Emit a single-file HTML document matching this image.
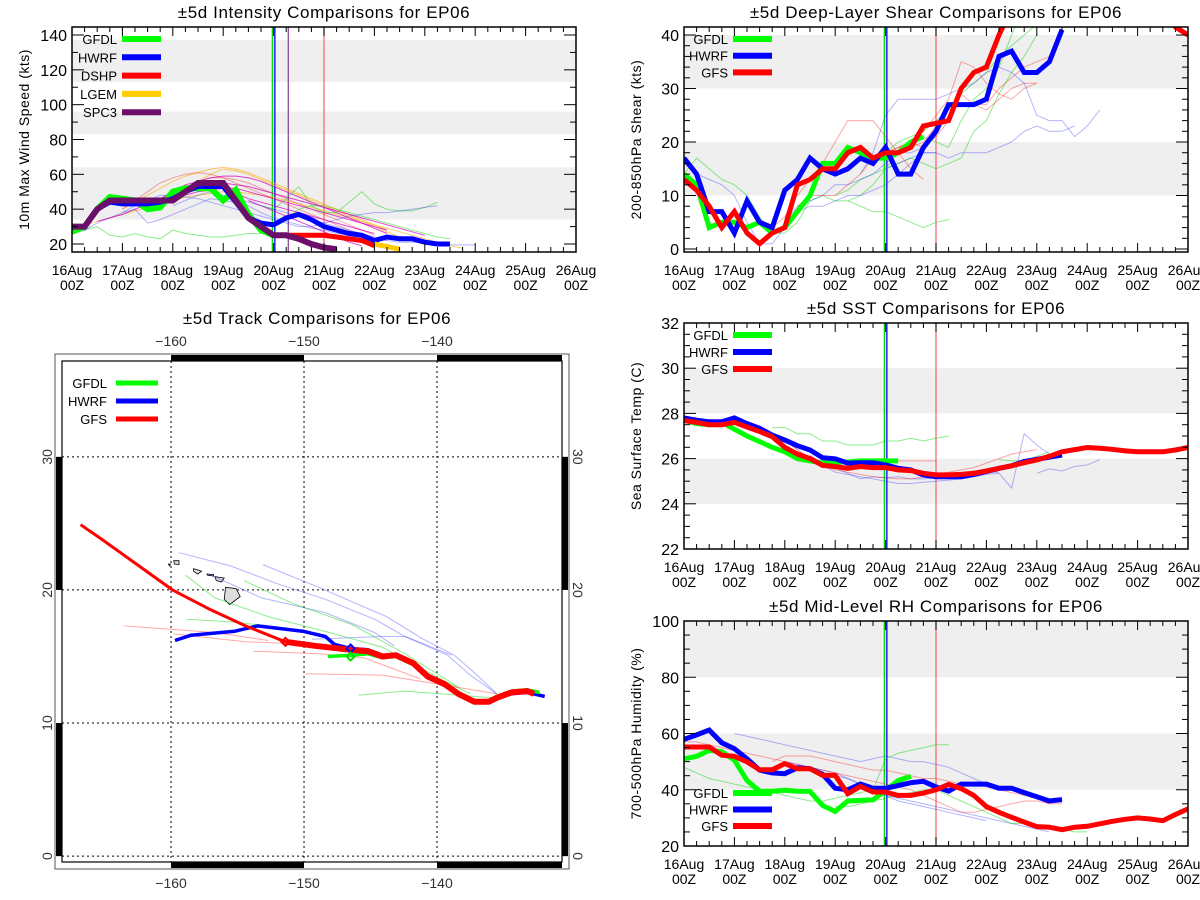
<!DOCTYPE html>
<html><head><meta charset="utf-8"><style>
body{margin:0;background:#fff}
svg{display:block;font-family:"Liberation Sans",sans-serif}
</style></head><body>
<svg id="svg" width="1200" height="900" viewBox="0 0 1200 900"></svg>
<script>
// ---------- DATA (series sampled every 6 h from start hour; hours since 16Aug 00Z) ----------
const dayLabels = ["16Aug","17Aug","18Aug","19Aug","20Aug","21Aug","22Aug","23Aug","24Aug","25Aug","26Aug"];
// Intensity (kts)
const intTicks = [20,40,60,80,100,120,140];
const intGFDL = [27,30,40,47,46,45,40,41,50,52,52,52,45,51,37,28,25];
const intHWRF = [30,30,40,44,43,43,43,44,46,50,53,53,53,44,35,32,31,35,37,34,30,28,26,25,22,24,23,23,21,20,20];
const intDSHP = [25,25,25,25,25,24,23,22,19];
const intDSHPStart = 96;
const intLGEM = [20,18.5,17];
const intLGEMStart = 144;
const intSPC3 = [30,30,40,45,45,45,45,45,45,50,55,55,55,45,35,30,25,25,23,20,18,17];
const intThinOrange1 = [30,31,33,35,37,39,41,43,45,47,48,49,50,50,49,48,47,45,43,41,39,37,35,33,31,29,27,25,23,21,19,17.5];
const intThinOrange2 = [40,44,48,52,56,59,61,63,64,63,61,58,55,52,49,46,43,40,37,34,31,28];
const intThinOrange3 = [48,52,56,60,63,62,60,57,54,51,48,45,42,39,36,33,30,27,24];
const intThinMag1 = [33,35,37,40,43,46,49,52,54,55,55,54,53,51,49,47,45,43,41,39,37,35,33,31,29,27,25];
const intThinMag2 = [42,46,50,54,56,58,59,59,58,56,53,50,47,44,41,38,35,32,29,26];
const intThinMag3 = [48,50,51,52,52,50,48,46,44,42,40,38,36,34,32,30,28];
const intThinMag4 = [45,42,39,36,33,30,27,24,21,19];
const intThinMag5 = [52,49,46,44,42,40,38,36,34,32,30,28,26];
const intThinRed1 = [40,45,50,55,58,60,61,60,58,55,52,49,46,43,40,37,34,31,28,25,22,18];
const intThinRed2 = [48,52,56,58,58,57,55,52,49,46,43,40,37,34,31,28,25];
const intThinGreen1 = [27,28,30,25,24,26,24,23,28,26,25,24,24,25,26,26,26];
const intThinGreen2 = [42,40,46,53,42,38,38,44,50,43,40,39,39,41,44];
const intThinGreen3 = [30,34,40,42,42,40,38,36,34,32,30,28,26,24,23];
const intThinBlue1 = [26,28,32,35,38,42,45,48,48,47,46,44,42,40,38,36,34,32,30,30,32,34,36,37,38,38,39,40,41,42];
const intThinBlue2 = [38,40,32,34,37,40,43,46,45,44,42,38,35,33,31,29,28,26,25,24,23,22,21,21,21,20,19.5,19.5,19.5];
const intThinBlue3 = [42,45,48,50,48,46,44,42,40,38,36,34,32,30,28,26,24,22];
// Shear (kts)
const shrTicks = [0,10,20,30,40];
const shrGFDL = [14,12,4,5,5,4,5,3,4,7,10,16,16,19,18,17,17,18,20,21];
const shrHWRF = [17,14,7,7,3,9,5,4,11,13,17,15,14,15,17,16,19,14,14,19,22,27,27,27,28,36,37,33,33,35,41];
const shrGFS = [13,11,8,4,7,3,1,3,4,12,13,15,15,18,19,17,18,18,19,23,23.5,24,30,33,34,40,45,45,45,45,45,45,45,45,45,45,45,45,45,41.5,40];
const shrThinG1 = [14,17,15,13,12,10,6,3,3,5,9,10,9,9,8,7,7,6,5,4,5,5.5];
const shrThinG2 = [10,11,13,14,15,16,17,16,15,16,17,22,24,29,33,36,40];
const shrThinG3 = [18,20,21,22,24,26,29,31,33,36,38,40,42];
const shrThinG4 = [9,10,12,15,18,20,21,20,19,24,28,30,34,40,45];
const shrThinB1 = [16,14,13,12,10,5,1,1,4,7,8,8,9,10,10,11,12,14,16,18,18];
const shrThinB2 = [14,18,25,28,28,28,28,29,30,31,33,34,33,31,25,24,24,21,23,26];
const shrThinB3 = [15,16,17,18,18,17,18,18,18,19,20,22,23,22,22,23];
const shrThinB4 = [5,8,9,10,12,12,13,14,16,18,18,19];
const shrThinR1 = [4,6,10,13,16,20,24,24,24,21,18,15,13];
const shrThinR2 = [8,10,10,10,12,14,17,18,19,20,19,21,24,29,27,27,30,32,34,35,36,41];
const shrThinR3 = [18,19,20,22,25,28,35,34,31,29,28,30,31];
const shrThinR4 = [19,19,20,23,26,27,27,26,28,30,31,31];
// SST (C)
const sstTicks = [22,24,26,28,30,32];
const sstGFDL = [27.7,27.55,27.5,27.6,27.3,27.0,26.75,26.5,26.3,26.0,25.9,25.8,25.85,25.85,25.9,25.9,25.9,25.9];
const sstHWRF = [27.8,27.7,27.63,27.63,27.8,27.55,27.34,27.04,26.82,26.57,26.38,26.04,25.99,25.8,25.82,25.82,25.72,25.57,25.5,25.28,25.2,25.2,25.2,25.3,25.43,25.57,25.68,25.87,25.97,26.06,26.16];
const sstGFS = [27.68,27.6,27.5,27.5,27.6,27.4,27.2,26.97,26.5,26.2,26.0,25.7,25.65,25.57,25.65,25.6,25.6,25.5,25.47,25.35,25.28,25.28,25.3,25.35,25.45,25.57,25.68,25.82,25.94,26.1,26.3,26.4,26.49,26.46,26.41,26.34,26.3,26.3,26.3,26.38,26.49];
const sstThinG1 = [27.37,27.37,27.1,27.1,26.78,26.78,26.6,26.6,26.6,26.78,26.78,26.9,26.78,26.9,27.0];
const sstThinG2 = [25.95,25.9,25.9,26.1,26.3];
const sstThinB1 = [26.15,25.8,25.6,25.35,25.1,25.2,25.15,25.2,25.1,25.1,25.15,25.3,25.35,25.45,25.4,25.4];
const sstThinB2 = [25.3,25.35,24.7,27.1,26.6,26.2];
const sstThinB3 = [25.35,25.55,25.45,25.65,25.72,25.95];
const sstThinB4 = [26.8,26.4,26.0,25.7,25.4,25.3,25.2,25.1,25.0,24.9,24.9,24.95,25.0,25.05,25.1,25.2,25.3];
const sstThinR1 = [25.9,25.9,25.9,25.9,25.9,25.9,25.9,25.9];
const sstThinR2 = [27.4,27.1,26.8,26.4,26.0,25.7,25.5,25.4,25.3,25.2,25.15,25.1,25.1,25.2,25.3,25.4,25.5,25.6,25.8,26.0,26.2,26.3,26.4];
// RH (%)
const rhTicks = [20,40,60,80,100];
const rhGFDL = [51,51.9,54,53.5,50.5,43.3,39.5,39.5,39.8,39.5,39.4,34.4,32.3,36,36.2,36.4,39.8,43.3,44.8];
const rhHWRF = [57.9,59.5,61.2,56.7,54.6,51,47,46,45.7,47.8,47.5,45.5,40.5,40,42,40.5,40.5,41.5,42.5,43,41,39.5,42,42,42,40.5,40.5,39,37.5,36,36.5];
const rhGFS = [55.2,55.2,55.2,52.3,51.9,49.9,47.1,47.1,49.3,47.5,47.5,45.1,45.1,38.6,41.2,39.2,39.2,38,38,38.8,40,41.9,40.4,38,34,32,30.2,28.5,26.9,26.7,25.8,26.7,27,27.9,28.8,29.5,30,29.6,29,31.2,33.2];
const rhThinB1 = [60,59,58,57,56,55,54,53,52,51,50,51,52,51,50,50,49,48,46,44,42];
const rhThinB2 = [50,49,48,47,46,44,42,40,38,37,36,35,34,33,32,31,30,29,28,27,26,25];
const rhThinB3 = [45,44,42,40,38,36,35,34,33,32,31,30,29];
const rhThinR1 = [57,57,56,55,54,53,52,51,50,49,48,47,46,45,44,43,42,41,40,38,36,34,32,32,33,34,35,36,36,35,35];
const rhThinR2 = [50,52,52,52,51,50,49,48,47,47,46,45,44,44,43,42,42,41,40,39,38,37,35];
const rhThinG1 = [48,46,44,43,42,41,40,39,38,37,36,36,37,38,39,40,51,53,54,55,56,56];
const rhThinG2 = [34,34,35,36,37,38,39,40,40,38,36,34,32,30,28,28,27,27,26,25,25];
// Track (lon, lat)
const trkGFSLon = [-166.8,-165.2,-162.4,-159.9,-157.2,-154.4,-151.4];
const trkGFSLat = [24.9,23.8,21.8,20.0,18.6,17.3,16.1];
const trkPastLon = [-151.4,-149.2,-146.5,-145.2,-144.1,-143.1,-141.8,-140.7,-139.4,-138.4,-137.2,-136.1,-135.5,-134.4,-133.2,-132.7];
const trkPastLat = [16.1,15.8,15.5,15.4,15.0,15.1,14.5,13.5,12.9,12.2,11.6,11.6,11.9,12.3,12.4,12.2];
const trkHWRFLon = [-159.7,-158.5,-155.2,-153.5,-150.1,-148.4,-147.7,-146.5,-145.2,-144.1,-143.1,-141.8,-140.7,-139.4,-138.4,-137.2,-136.1,-135.5,-134.4,-133.2,-131.9];
const trkHWRFLat = [16.2,16.6,16.9,17.3,16.9,16.5,15.9,15.6,15.5,15.1,15.1,14.5,13.6,12.9,12.2,11.6,11.6,11.9,12.2,12.3,12.0];
const trkGFDLLon = [-148.2,-146.5,-145.2,-144.1,-143.1,-141.8,-140.7,-139.4,-138.4,-137.2,-136.1,-135.5,-134.4,-133.2,-132.3];
const trkGFDLLat = [15.0,15.1,15.2,14.9,15.0,14.4,13.5,12.9,12.2,11.6,11.6,12.0,12.4,12.5,12.3];
const thinTrackBlue = [
 [[-159.4,22.8],[-155.5,21.8],[-152.1,20.5],[-148.4,19.3],[-144.7,17.8],[-142.4,16.5],[-139.2,15.1],[-137.5,13.6],[-135.5,12.2]],
 [[-153.1,21.9],[-148.9,20.2],[-143.8,18.0],[-141.2,16.4],[-138.7,15.1],[-137.2,13.8],[-135.5,12.2]],
 [[-157.2,21.2],[-153.2,19.4],[-148.4,18.3],[-144.7,16.8],[-143.2,15.8]],
 [[-149.4,16.3],[-144.1,16.5],[-142.4,16.5],[-138.9,15.1]]];
const thinTrackGreen = [
 [[-158.9,21.1],[-156.7,19.4],[-152.7,18.0],[-148.1,16.8],[-144.1,15.7],[-139.5,13.2],[-137.5,12.2]],
 [[-154.5,20.7],[-150.9,19.0],[-146.4,17.4],[-142.4,15.2],[-138.4,12.7]],
 [[-158.8,17.8],[-155.5,17.6],[-152.7,17.3]],
 [[-145.9,12.1],[-142.4,12.4],[-137.2,12.0],[-135.8,11.9]]];
const thinTrackRed = [
 [[-163.5,17.3],[-156.7,16.8],[-152.7,16.2]],
 [[-153.8,15.4],[-148.9,15.2],[-145.5,14.9],[-141.2,13.3]],
 [[-149.9,13.7],[-144.1,13.6],[-139.8,12.9],[-135.5,12.2]],
 [[-159.8,16.7],[-154.4,16.1],[-151.4,16.0]]];
const islands = [
 [[-155.9,20.2],[-155.1,20.1],[-154.8,19.5],[-155.6,18.9],[-156.0,19.3]],
 [[-156.7,21.0],[-156.0,20.9],[-156.2,20.6],[-156.6,20.7]],
 [[-157.3,21.2],[-156.8,21.15],[-156.8,21.05],[-157.25,21.1]],
 [[-158.3,21.6],[-157.7,21.4],[-158.0,21.2],[-158.3,21.4]],
 [[-159.8,22.2],[-159.4,22.2],[-159.4,21.9],[-159.75,21.95]],
 [[-160.2,21.95],[-160.05,21.95],[-160.1,21.8]]];

// ---------- helpers ----------
const NS="http://www.w3.org/2000/svg";
const svg=document.getElementById('svg');
function el(tag,attrs,parent){const e=document.createElementNS(NS,tag);for(const k in attrs)e.setAttribute(k,attrs[k]);(parent||svg).appendChild(e);return e;}
function txt(s,x,y,size,anchor,parent,extra){const t=el('text',Object.assign({x:x,y:y,'font-size':size,'text-anchor':anchor||'middle',fill:'#000'},extra||{}),parent);t.textContent=s;return t;}
let clipId=0;

function timePanel(P){
  const g=el('g',{});
  
  
  const X=h=>P.x0+h/240*(P.x1-P.x0);
  const Y=v=>P.y1-(v-P.vmin)/(P.vmax-P.vmin)*(P.y1-P.y0);
  const cid='c'+(clipId++);
  const cp=el('clipPath',{id:cid},g);el('rect',{x:P.x0,y:P.y0,width:P.x1-P.x0,height:P.y1-P.y0},cp);
  P.bands.forEach(b=>{
    const r=el('rect',{x:P.x0,y:Y(Math.min(b[1],P.vmax)),width:P.x1-P.x0,height:Y(b[0])-Y(Math.min(b[1],P.vmax)),fill:'#efefef'},g);
    
    
  });
  const sg=el('g',{'clip-path':'url(#'+cid+')'},g);
  P.vlines.forEach(v=>{
    const l=el('line',{x1:X(v[0]),x2:X(v[0]),y1:P.y0,y2:P.y1,stroke:v[1],'stroke-width':1.3},sg);
    
    
  });
  P.series.forEach(s=>{
    const pts=s.v.map((v,i)=>X(s.s+6*i).toFixed(1)+','+Y(v).toFixed(1)).join(' ');
    const pl=el('polyline',{points:pts,fill:'none',stroke:s.c,'stroke-width':s.w,'stroke-linejoin':'miter','stroke-opacity':s.o||1},sg);
    
    
  });
  el('rect',{x:P.x0,y:P.y0,width:P.x1-P.x0,height:P.y1-P.y0,fill:'none',stroke:'#000','stroke-width':1.5},g);
  for(let h=0;h<=240;h+=6){
    const L=h%24===0?9:5;
    el('line',{x1:X(h),x2:X(h),y1:P.y1,y2:P.y1-L,stroke:'#000'},g);
    el('line',{x1:X(h),x2:X(h),y1:P.y0,y2:P.y0+L,stroke:'#000'},g);
  }
  dayLabels.forEach((d,i)=>{
    const t1=txt(d,X(24*i),P.y1+23,14,'middle',g);
    
    
    txt('00Z',X(24*i),P.y1+38,14,'middle',g);
  });
  for(let v=P.ticks[0];v<=P.ticks[P.ticks.length-1]+1e-6;v+=P.minor){
    const major=P.ticks.some(t=>Math.abs(t-v)<1e-6);
    const L=major?12:6;
    el('line',{x1:P.x0,x2:P.x0+L,y1:Y(v),y2:Y(v),stroke:'#000'},g);
    el('line',{x1:P.x1,x2:P.x1-L,y1:Y(v),y2:Y(v),stroke:'#000'},g);
  }
  P.ticks.forEach(t=>{
    const tl=txt(String(t),P.x0-5,Y(t)+6,16,'end',g);
    
    
  });
  const yt=txt(P.ytitle,0,0,14,'middle',g,{transform:`translate(${P.x0-43},${(P.y0+P.y1)/2}) rotate(-90)`,'letter-spacing':'0.5'});
  
  
  const tt=txt(P.title,(P.x0+P.x1)/2,P.y0-9,17,'middle',g,{'letter-spacing':'0.6'});
  
  
  P.legend.forEach((L,i)=>{
    const y=P.legY+i*P.legDy;
    const lt=txt(L[0],P.x0+P.legTx,y+5,13,'end',g);
    
    
    const ll=el('line',{x1:P.x0+P.legTx+5,x2:P.x0+P.legTx+44,y1:y,y2:y,stroke:L[1],'stroke-width':6},g);
    
    
  });
}

const tG='rgba(0,210,0,0.45)',tB='rgba(40,40,255,0.35)',tR='rgba(255,0,0,0.35)',tM='rgba(220,0,190,0.75)',tO='rgba(255,170,0,0.6)';
timePanel({name:'intensity-chart',x0:72,x1:576,y0:27,y1:252,vmin:15.4,vmax:144.6,ticks:intTicks,minor:10,
 bands:[[34,64],[83,96],[113,137]],
 vlines:[[95.4,'#00dd00'],[96.6,'#0000ff'],[103,'#8a4a9a'],[120,'#f07070']],
 title:'±5d Intensity Comparisons for EP06',ytitle:'10m Max Wind Speed (kts)',
 legend:[['GFDL','#00ff00'],['HWRF','#0000ff'],['DSHP','#ff0000'],['LGEM','#ffcc00'],['SPC3','#6b0f6b']],legY:39,legDy:18.3,legTx:45,
 series:[
  {n:'lgem-forecast',s:0,v:intThinOrange1,c:tO,w:1},{n:'lgem-forecast',s:24,v:intThinOrange2,c:tO,w:1},{n:'lgem-forecast',s:48,v:intThinOrange3,c:tO,w:1},
  {n:'red-forecast',s:24,v:intThinRed1,c:tR,w:1},{n:'red-forecast',s:48,v:intThinRed2,c:tR,w:1},
  {n:'spc3-forecast',s:12,v:intThinMag1,c:tM,w:1},{n:'spc3-forecast',s:36,v:intThinMag2,c:tM,w:1},{n:'spc3-forecast',s:54,v:intThinMag3,c:tM,w:1},{n:'spc3-forecast',s:84,v:intThinMag4,c:tM,w:1},{n:'spc3-forecast',s:72,v:intThinMag5,c:tM,w:1},
  {n:'gfdl-forecast',s:0,v:intThinGreen1,c:tG,w:1},{n:'gfdl-forecast',s:90,v:intThinGreen2,c:tG,w:1},{n:'gfdl-forecast',s:96,v:intThinGreen3,c:tG,w:1},
  {n:'hwrf-forecast',s:0,v:intThinBlue1,c:tB,w:1},{n:'hwrf-forecast',s:24,v:intThinBlue2,c:tB,w:1},{n:'hwrf-forecast',s:48,v:intThinBlue3,c:tB,w:1},
  {n:'gfdl-line',s:0,v:intGFDL,c:'#00ff00',w:6},
  {n:'hwrf-line',s:0,v:intHWRF,c:'#0000ff',w:5},
  {n:'dshp-line',s:intDSHPStart,v:intDSHP,c:'#ff0000',w:5},
  {n:'lgem-line',s:intLGEMStart,v:intLGEM,c:'#ffcc00',w:5},
  {n:'spc3-line',s:0,v:intSPC3,c:'#6b0f6b',w:6}]});
timePanel({name:'shear-chart',x0:684,x1:1188,y0:27,y1:252,vmin:-0.56,vmax:41.5,ticks:shrTicks,minor:2,
 bands:[[10,20],[30,40]],
 vlines:[[95.4,'#00dd00'],[96.6,'#0000ff'],[120,'#f07070']],
 title:'±5d Deep-Layer Shear Comparisons for EP06',ytitle:'200-850hPa Shear (kts)',
 legend:[['GFDL','#00ff00'],['HWRF','#0000ff'],['GFS','#ff0000']],legY:39,legDy:16.7,legTx:44,
 series:[
  {n:'gfdl-forecast',s:0,v:shrThinG1,c:tG,w:1},{n:'gfdl-forecast',s:72,v:shrThinG2,c:tG,w:1},{n:'gfdl-forecast',s:96,v:shrThinG3,c:tG,w:1},{n:'gfdl-forecast',s:78,v:shrThinG4,c:tG,w:1},
  {n:'hwrf-forecast',s:0,v:shrThinB1,c:tB,w:1},{n:'hwrf-forecast',s:84,v:shrThinB2,c:tB,w:1},{n:'hwrf-forecast',s:96,v:shrThinB3,c:tB,w:1},{n:'hwrf-forecast',s:48,v:shrThinB4,c:tB,w:1},
  {n:'gfs-forecast',s:42,v:shrThinR1,c:tR,w:1},{n:'gfs-forecast',s:54,v:shrThinR2,c:tR,w:1},{n:'gfs-forecast',s:96,v:shrThinR3,c:tR,w:1},{n:'gfs-forecast',s:102,v:shrThinR4,c:tR,w:1},
  {n:'gfdl-line',s:0,v:shrGFDL,c:'#00ff00',w:5},
  {n:'hwrf-line',s:0,v:shrHWRF,c:'#0000ff',w:5},
  {n:'gfs-line',s:0,v:shrGFS,c:'#ff0000',w:5}]});
timePanel({name:'sst-chart',x0:684,x1:1188,y0:323,y1:549,vmin:22,vmax:32,ticks:sstTicks,minor:0.5,
 bands:[[24,26],[28,30]],
 vlines:[[95.4,'#00dd00'],[96.6,'#0000ff'],[120,'#f07070']],
 title:'±5d SST Comparisons for EP06',ytitle:'Sea Surface Temp (C)',
 legend:[['GFDL','#00ff00'],['HWRF','#0000ff'],['GFS','#ff0000']],legY:335,legDy:17,legTx:44,
 series:[
  {n:'gfdl-forecast',s:42,v:sstThinG1,c:tG,w:1},{n:'gfdl-forecast',s:150,v:sstThinG2,c:tG,w:1},
  {n:'hwrf-forecast',s:60,v:sstThinB1,c:tB,w:1},{n:'hwrf-forecast',s:144,v:sstThinB2,c:tB,w:1},{n:'hwrf-forecast',s:168,v:sstThinB3,c:tB,w:1},{n:'hwrf-forecast',s:48,v:sstThinB4,c:tB,w:1},
  {n:'gfs-forecast',s:78,v:sstThinR1,c:tR,w:1},{n:'gfs-forecast',s:36,v:sstThinR2,c:tR,w:1},
  {n:'gfdl-line',s:0,v:sstGFDL,c:'#00ff00',w:5},
  {n:'hwrf-line',s:0,v:sstHWRF,c:'#0000ff',w:5},
  {n:'gfs-line',s:0,v:sstGFS,c:'#ff0000',w:5}]});
timePanel({name:'rh-chart',x0:684,x1:1188,y0:621,y1:846,vmin:20,vmax:100,ticks:rhTicks,minor:5,
 bands:[[40,60],[80,100]],
 vlines:[[95.4,'#00dd00'],[96.6,'#0000ff'],[120,'#f07070']],
 title:'±5d Mid-Level RH Comparisons for EP06',ytitle:'700-500hPa Humidity (%)',
 legend:[['GFDL','#00ff00'],['HWRF','#0000ff'],['GFS','#ff0000']],legY:793,legDy:16.5,legTx:44,
 series:[
  {n:'hwrf-forecast',s:24,v:rhThinB1,c:tB,w:1},{n:'hwrf-forecast',s:48,v:rhThinB2,c:tB,w:1},{n:'hwrf-forecast',s:72,v:rhThinB3,c:tB,w:1},
  {n:'gfs-forecast',s:0,v:rhThinR1,c:tR,w:1},{n:'gfs-forecast',s:42,v:rhThinR2,c:tR,w:1},
  {n:'gfdl-forecast',s:0,v:rhThinG1,c:tG,w:1},{n:'gfdl-forecast',s:72,v:rhThinG2,c:tG,w:1},
  {n:'gfdl-line',s:0,v:rhGFDL,c:'#00ff00',w:5},
  {n:'hwrf-line',s:0,v:rhHWRF,c:'#0000ff',w:5},
  {n:'gfs-line',s:0,v:rhGFS,c:'#ff0000',w:5}]});

// ---------- Track map ----------
(function(){
  const M={x0:62,x1:562,y0:361,y1:862,lon0:-168.2,lon1:-130.6,lat0:-0.44,lat1:37.2};
  const LX=lon=>M.x0+(lon-M.lon0)/(M.lon1-M.lon0)*(M.x1-M.x0);
  const LY=lat=>M.y1-(lat-M.lat0)/(M.lat1-M.lat0)*(M.y1-M.y0);
  const g=el('g',{});
  
  
  const tt=txt('±5d Track Comparisons for EP06',(M.x0+M.x1)/2+5,324,17,'middle',g,{'letter-spacing':'0.6'});
  
  
  el('rect',{x:55,y:354,width:514,height:515,fill:'none',stroke:'#555','stroke-width':1},g);
  const lonB=[M.lon0,-160,-150,-140,M.lon1], latB=[M.lat0,0,10,20,30,M.lat1];
  for(let i=0;i<4;i++){ if(i===1||i===3){
    el('rect',{x:LX(lonB[i]),y:355,width:LX(lonB[i+1])-LX(lonB[i]),height:6,fill:'#000'},g);
    el('rect',{x:LX(lonB[i]),y:862,width:LX(lonB[i+1])-LX(lonB[i]),height:6,fill:'#000'},g);}}
  for(let i=0;i<5;i++){ if(i===1||i===3){
    el('rect',{x:56,y:LY(latB[i+1]),width:6,height:LY(latB[i])-LY(latB[i+1]),fill:'#000'},g);
    el('rect',{x:562,y:LY(latB[i+1]),width:6,height:LY(latB[i])-LY(latB[i+1]),fill:'#000'},g);}}
  el('rect',{x:M.x0,y:M.y0,width:M.x1-M.x0,height:M.y1-M.y0,fill:'none',stroke:'#000','stroke-width':1.2},g);
  const cp=el('clipPath',{id:'mapclip'},g);el('rect',{x:M.x0,y:M.y0,width:M.x1-M.x0,height:M.y1-M.y0},cp);
  const mg=el('g',{'clip-path':'url(#mapclip)'},g);
  [-160,-150,-140].forEach(l=>{
    const gl=el('line',{x1:LX(l),x2:LX(l),y1:M.y0,y2:M.y1,stroke:'#000','stroke-dasharray':'2,3','stroke-width':1},mg);
    
    
    const a=txt(String(l).replace('-','−'),LX(l),346,14,'middle',g,{fill:'#333'});
    
    
    txt(String(l).replace('-','−'),LX(l),888,14,'middle',g,{fill:'#333'});
  });
  [0,10,20,30].forEach(l=>{
    const gl=el('line',{x1:M.x0,x2:M.x1,y1:LY(l),y2:LY(l),stroke:'#000','stroke-dasharray':'2,3','stroke-width':1},mg);
    
    
    const a=txt(String(l),0,0,14,'middle',g,{fill:'#333',transform:`translate(${52},${LY(l)}) rotate(-90)`});
    
    
    txt(String(l),0,0,14,'middle',g,{fill:'#333',transform:`translate(${573},${LY(l)}) rotate(90)`});
  });
  islands.forEach(p=>{
    const pg=el('polygon',{points:p.map(q=>LX(q[0]).toFixed(1)+','+LY(q[1]).toFixed(1)).join(' '),fill:'#ddd',stroke:'#000','stroke-width':0.8},mg);
    
    
  });
  function line(pts,c,w,name){
    const pl=el('polyline',{points:pts.map(q=>LX(q[0]).toFixed(1)+','+LY(q[1]).toFixed(1)).join(' '),fill:'none',stroke:c,'stroke-width':w,'stroke-linejoin':'round'},mg);
    
    
  }
  thinTrackBlue.forEach(t=>line(t,tB,1,'hwrf-track-forecast'));
  thinTrackGreen.forEach(t=>line(t,tG,1,'gfdl-track-forecast'));
  thinTrackRed.forEach(t=>line(t,tR,1,'gfs-track-forecast'));
  const zip=(a,b)=>a.map((v,i)=>[v,b[i]]);
  line(zip(trkHWRFLon,trkHWRFLat),'#0000ff',3.5,'hwrf-track');
  line(zip(trkGFDLLon,trkGFDLLat),'#00ff00',3.5,'gfdl-track');
  line(zip(trkGFSLon,trkGFSLat),'#ff0000',3,'gfs-track');
  line(zip(trkPastLon,trkPastLat),'#ff0000',6,'gfs-track-analysis');
  [[trkPastLon[0],trkPastLat[0],'#ff0000'],[-146.5,15.6,'#0000ff'],[-146.5,15.0,'#00dd00']].forEach(d=>{
    const x=LX(d[0]),y=LY(d[1]);
    const dm=el('polygon',{points:`${x},${y-4} ${x+4},${y} ${x},${y+4} ${x-4},${y}`,fill:'none',stroke:d[2],'stroke-width':2},mg);
    
    
  });
  [['GFDL','#00ff00',383],['HWRF','#0000ff',401],['GFS','#ff0000',419]].forEach(L=>{
    const lt=txt(L[0],107,L[2]+5,13,'end',g);
    
    
    const ll=el('line',{x1:116,x2:158,y1:L[2],y2:L[2],stroke:L[1],'stroke-width':5},g);
    
    
  });
})();
</script>
</body></html>
